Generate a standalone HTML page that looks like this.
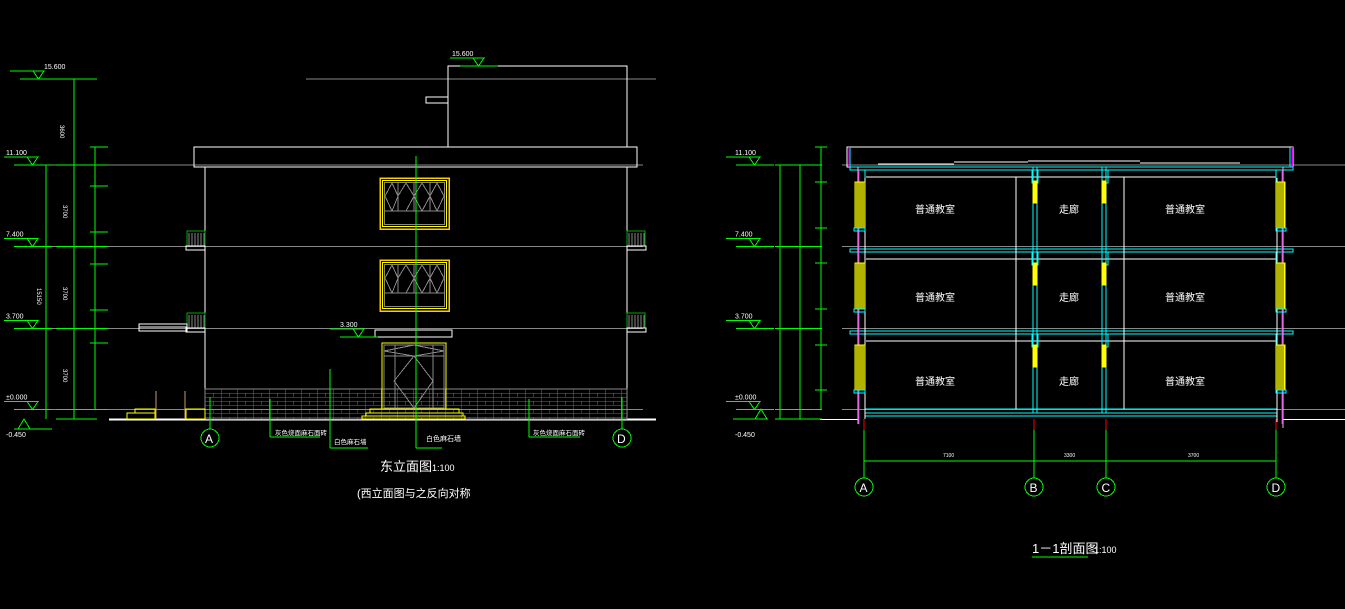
<!DOCTYPE html>
<html><head><meta charset="utf-8"><style>
html,body{margin:0;padding:0;background:#000;width:1345px;height:609px;overflow:hidden}
svg{display:block}
text{font-family:"Liberation Sans","Noto Sans CJK SC",sans-serif;fill:#fff}
</style></head><body>
<svg id="s" width="1345" height="609" viewBox="0 0 1345 609" xmlns="http://www.w3.org/2000/svg" shape-rendering="crispEdges">
<rect width="1345" height="609" fill="#000"/>
<defs>
<pattern id="brick" x="205" y="389" width="16" height="8" patternUnits="userSpaceOnUse">
<rect width="16" height="8" fill="none" stroke="#888" stroke-width="0.8"/>
<line x1="8" y1="4" x2="8" y2="8" stroke="#888" stroke-width="0.8"/>
<line x1="0" y1="4" x2="16" y2="4" stroke="#888" stroke-width="0.8"/>
</pattern>
</defs>
<g id="g"></g>
</svg>
<script>
const g=document.getElementById('g');let h='';
const L=(x1,y1,x2,y2,c,w)=>h+=`<line x1="${x1}" y1="${y1}" x2="${x2}" y2="${y2}" stroke="${c}" stroke-width="${w||1}"/>`;
const R=(x,y,w,hh,c,f,sw)=>h+=`<rect x="${x}" y="${y}" width="${w}" height="${hh}" stroke="${c}" fill="${f||'none'}" stroke-width="${sw||1}"/>`;
const T=(x,y,t,s,c,a)=>h+=`<text x="${x}" y="${y}" font-size="${s}" fill="${c||'#fff'}" ${a||''}>${t}</text>`;
const G='#0f0',W='#fff',Y='#ff0',C='#0ff',GR='#888';
// ===== LEFT ELEVATION =====
[165,246.5,328.5,409.5].forEach(y=>L(37,y,643,y,GR));
L(306,79,656,79,GR);
R(448,66,179,81,W);R(426,97,22,6,W);
R(194,147,443,20,W);
L(205,167,205,419,W);L(627,167,627,419,W);
L(109,419.5,656,419.5,W,2);
R(205,389,422,30,GR,'url(#brick)');
function win(y){R(380,y,69,51,'#fc0','none',1.5);R(382.5,y+2.5,64,46,Y);R(384.5,y+4.5,60,42,GR);
L(384,y+33,445,y+33,GR);[398,414,430].forEach(x=>L(x,y+4,x,y+33,GR));
h+=`<polyline points="385,${y+18} 392,${y+5} 398,${y+18} 392,${y+33} 385,${y+18}" stroke="${GR}" fill="none"/>`;
h+=`<polyline points="398,${y+18} 406,${y+5} 414,${y+18} 406,${y+33}" stroke="${GR}" fill="none"/>`;
h+=`<polyline points="414,${y+18} 422,${y+5} 430,${y+18} 422,${y+33} 414,${y+18}" stroke="${GR}" fill="none"/>`;
h+=`<polyline points="430,${y+18} 437,${y+5} 444,${y+18} 437,${y+33} 430,${y+18}" stroke="${GR}" fill="none"/>`;}
win(178);win(260);
R(375,330,77,7,W);
R(382,343,64,66,Y);R(384,345,60,63,GR);L(384,356,444,356,GR);L(395,345,395,408,GR);L(433,345,433,408,GR);
h+=`<polyline points="394,381 414,356 433,381 414,408 394,381" stroke="${GR}" fill="none"/>`;
h+=`<polyline points="384,351 414,345 444,351 414,356 384,351" stroke="${GR}" fill="none"/>`;
R(370,409,89,4,Y);R(366,413,97,3,Y);R(362,416,103,3,Y);
R(135,409,20,4,Y);R(127,413,28,6,Y);R(186,409,19,10,Y);
L(156,391,156,419,'#c96');L(185,391,185,419,'#c96');
[[187,231],[187,313],[627,231],[627,313]].forEach(([x,y])=>{R(x,y,18,15,'#0a0');for(let i=2;i<18;i+=3)L(x+i,y+2,x+i,y+15,GR);R(x-(x<300?1:0),y+15,19,4,W);});
R(139,324,48,7,W);L(139,327,187,327,W);
L(416,156,416,448,G);L(416,448,442,448,G);T(426,441,'白色麻石墙',7);
L(270,399,270,437,G);L(270,437,320,437,G);T(275,435,'灰色烧面麻石面砖',6.5);
L(330,369,330,448,G);L(330,448,368,448,G);T(334,444,'白色麻石墙',6.5);
L(529,399,529,437,G);L(529,437,580,437,G);T(533,435,'灰色烧面麻石面砖',6.5);
L(210,397,210,429,G);L(622,397,622,429,G);
h+=`<circle cx="210" cy="438" r="9" stroke="${G}" fill="none"/><circle cx="622" cy="438" r="9" stroke="${G}" fill="none"/>`;
T(205,443,'A',12);T(617,443,'D',12);
function lev(x,y,t,xl){L(x,y,x+38,y,G);h+=`<polyline points="${x+13},${y-8} ${x+24},${y-8} ${x+18.5},${y} ${x+13},${y-8}" stroke="${G}" fill="none"/>`;L(x-10,y-8,x+24,y-8,G);T(xl||x-10,y-10,t,7);}
lev(20,79,'15.600',44);lev(14,165,'11.100',6);lev(14,246.5,'7.400',6);lev(14,328.5,'3.700',6);lev(14,409.5,'±0.000',6);
L(14,429,52,429,G);h+=`<polyline points="18,429 24,419 30,429" stroke="${G}" fill="none"/>`;T(6,437,'-0.450',7);
lev(460,66,'15.600',452);lev(340,337,'3.300',340);
L(46,165,46,419,G);L(74,79,74,419,G);L(95,147,95,409,G);
[79,165,246.5,328.5,409.5,419].forEach(y=>{L(56,y,97,y,G)});
[147,165,186,232,246.5,264,310,328.5,343,409.5].forEach(y=>L(90,y,108,y,G));
T(60,125,'3600',6,'#fff','transform="rotate(90 60 125)"');
[205,287,369].forEach(y=>T(63,y,'3700',6,'#fff',`transform="rotate(90 63 ${y})"`));
T(37,288,'15150',6,'#fff','transform="rotate(90 37 288)"');
T(380,471,'东立面图',13);T(432,471,'1:100',9);
T(357,497,'(西立面图与之反向对称',11);
// ===== RIGHT SECTION =====
[165,246.5,328.5,409.5].forEach(y=>L(842,y,1345,y,GR));
L(1283,419.5,1345,419.5,W);L(820,419.5,858,419.5,W);
R(847,147,446,20,W);L(850,147,850,167,C);L(1290,147,1290,167,C);
L(849,147,849,167,'#f0f',1.5);L(1292,147,1292,167,'#f0f',1.5);
L(878,164,954,164,W);L(954,162,1028,162,W);L(1028,161,1140,161,W);L(1140,163,1240,163,W);
[167,249,331].forEach(y=>{R(850,y,443,3,C);
L(866,y+3,1032,y+3,C);L(1038,y+3,1102,y+3,C);L(1108,y+3,1276,y+3,C);
L(866,y+10,1276,y+10,W);
R(858,y+3,7,13,C);R(1032,y+3,6,13,C);R(1102,y+3,6,13,C);R(1276,y+3,7,13,C);});
R(865,409,412,4,C);R(865,413,412,3,C);
[[1033,1037],[1102,1106]].forEach(([a,b])=>{L(a,167,a,413,C);L(b,167,b,413,C);});
L(1016,177,1016,409,W);L(1124,177,1124,409,W);
L(865,178,865,419,W);L(1277,178,1277,422,W);L(1283,167,1283,428,'#ccc');L(858,167,858,424,'#ccc');
L(859,170,859,424,'#f0f');L(1282,170,1282,424,'#f0f');
[[182,228],[263,309],[345,390]].forEach(([a,b])=>{R(855,a,10,b-a,Y,'#660');for(let x=857;x<865;x+=2)L(x,a,x,b,Y);
R(1276,a,9,b-a,Y,'#660');for(let x=1278;x<1285;x+=2)L(x,a,x,b,Y);
R(854,b,11,3,C);R(1276,b,10,3,C);});
[181,263,345].forEach(y=>{R(1033,y,4,22,Y,Y);R(1102,y,4,22,Y,Y);});
T(915,213,'普通教室',10);T(1059,213,'走廊',10);T(1165,213,'普通教室',10);
T(915,301,'普通教室',10);T(1059,301,'走廊',10);T(1165,301,'普通教室',10);
T(915,385,'普通教室',10);T(1059,385,'走廊',10);T(1165,385,'普通教室',10);
[[864,'A'],[1034,'B'],[1106,'C'],[1276,'D']].forEach(([x,t])=>{L(x,419,x,430,'#f00');L(x,430,x,478,G);h+=`<circle cx="${x}" cy="487" r="9" stroke="${G}" fill="none"/>`;T(x-4.5,492,t,12);});
L(864,461,1276,461,G);T(943,457,'7100',5);T(1064,457,'3300',5);T(1188,457,'3700',5);
lev(736,165,'11.100',735);lev(736,246.5,'7.400',735);lev(736,328.5,'3.700',735);lev(736,409.5,'±0.000',735);
L(733,419,768,419,G);h+=`<polyline points="755,419 761,409 767,419" stroke="${G}" fill="none"/>`;T(735,437,'-0.450',7);
L(780,165,780,419,G);L(800,165,800,419,G);L(821,147,821,409,G);
[165,246.5,328.5,409.5,419].forEach(y=>L(775,y,822,y,G));
[147,182,228,263,309,345,390].forEach(y=>L(815,y,827,y,G));
T(1032,553,'1－1剖面图',13);T(1094,553,'1:100',9);L(1032,557,1088,557,G);
g.innerHTML=h;
</script>
</body></html>
